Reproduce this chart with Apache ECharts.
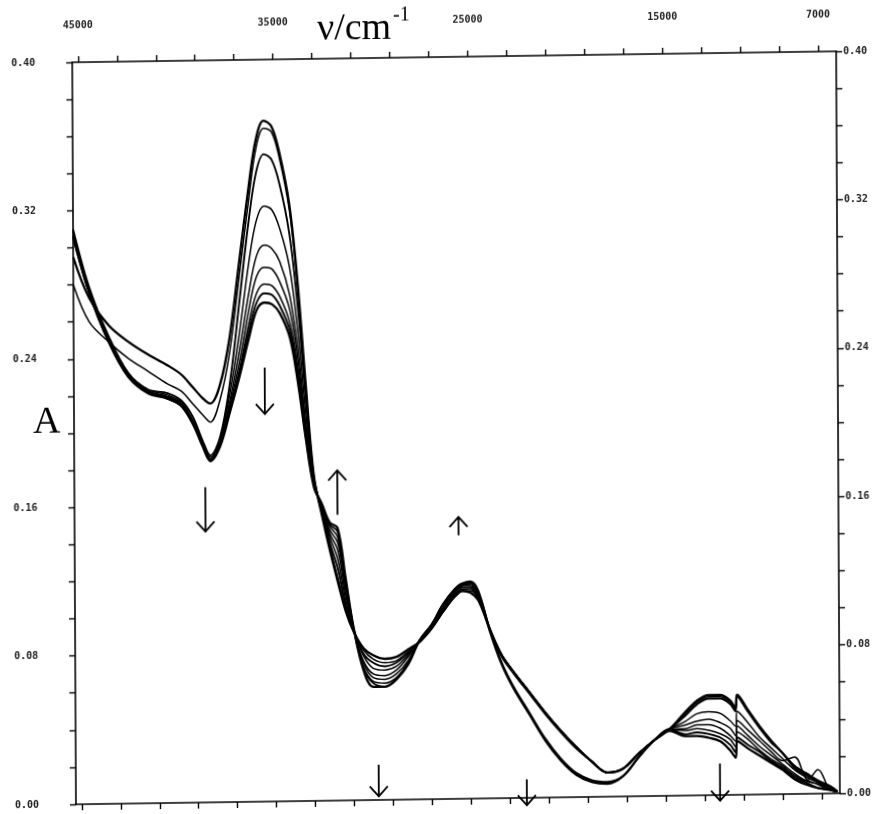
<!DOCTYPE html>
<html><head><meta charset="utf-8">
<script src="https://cdn.jsdelivr.net/npm/echarts@6/dist/echarts.min.js"></script>
<style>html,body{margin:0;padding:0;background:#fff;overflow:hidden}#c{width:888px;height:814px;transform-origin:444px 407px;transform:matrix(1,-0.0144,0.005,1,0,0)}</style>
</head><body><div id="c"></div>
<script>
// wavenumber grid (cm-1)
const wn = [45300,44500,43500,42500,41500,40500,39800,39200,38700,38300,37800,37300,36800,36300,35900,35500,35100,34700,34200,33800,33400,33000,32600,32200,31800,31400,31000,30500,30000,29400,28800,28200,27600,27000,26400,25800,25400,25000,24600,24000,23400,22800,22000,21200,20400,19600,18800,18000,17200,16400,15600,14800,14000,13400,12800,12200,11700,11420,11330,10800,10200,9600,9000,8400,7800,7200,6600,6200];

const s1 = [0.295,0.273,0.258,0.249,0.242,0.236,0.231,0.224,0.218,0.215,0.225,0.250,0.290,0.330,0.357,0.367,0.364,0.350,0.322,0.281,0.225,0.175,0.154,0.135,0.118,0.102,0.091,0.082,0.078,0.076,0.077,0.081,0.085,0.092,0.101,0.109,0.112,0.111,0.107,0.091,0.077,0.068,0.057,0.046,0.036,0.027,0.019,0.013,0.015,0.023,0.030,0.036,0.045,0.051,0.054,0.054,0.051,0.047,0.054,0.046,0.037,0.029,0.022,0.015,0.011,0.007,0.004,0.001];
const s2 = [0.280,0.260,0.249,0.240,0.233,0.226,0.222,0.215,0.209,0.205,0.217,0.242,0.282,0.323,0.352,0.363,0.361,0.347,0.319,0.279,0.223,0.175,0.155,0.137,0.120,0.103,0.091,0.081,0.076,0.074,0.075,0.080,0.085,0.092,0.101,0.109,0.112,0.112,0.108,0.091,0.077,0.068,0.057,0.046,0.036,0.027,0.019,0.013,0.015,0.023,0.030,0.036,0.044,0.050,0.053,0.053,0.050,0.046,0.054,0.046,0.037,0.029,0.022,0.015,0.011,0.007,0.004,0.001];
const s3 = [0.310,0.279,0.252,0.232,0.223,0.221,0.217,0.208,0.195,0.187,0.197,0.225,0.268,0.312,0.339,0.349,0.346,0.333,0.306,0.268,0.217,0.174,0.156,0.139,0.125,0.105,0.092,0.079,0.074,0.072,0.074,0.079,0.085,0.092,0.102,0.110,0.113,0.113,0.108,0.091,0.077,0.068,0.057,0.046,0.036,0.027,0.019,0.013,0.015,0.023,0.030,0.036,0.043,0.049,0.052,0.052,0.049,0.045,0.053,0.045,0.036,0.028,0.022,0.014,0.010,0.006,0.003,0.001];
const s4 = [0.309,0.278,0.251,0.232,0.223,0.220,0.216,0.206,0.194,0.186,0.196,0.220,0.252,0.290,0.313,0.321,0.319,0.309,0.288,0.254,0.209,0.173,0.157,0.142,0.130,0.108,0.092,0.078,0.071,0.070,0.072,0.078,0.086,0.093,0.102,0.111,0.114,0.114,0.109,0.091,0.077,0.068,0.057,0.046,0.036,0.027,0.019,0.013,0.015,0.023,0.030,0.036,0.040,0.044,0.045,0.044,0.040,0.037,0.045,0.039,0.031,0.025,0.019,0.013,0.009,0.006,0.003,0.001];
const s5 = [0.308,0.278,0.250,0.231,0.222,0.219,0.215,0.206,0.194,0.185,0.195,0.216,0.243,0.274,0.294,0.300,0.298,0.291,0.273,0.244,0.203,0.172,0.158,0.144,0.135,0.111,0.092,0.075,0.068,0.067,0.070,0.077,0.086,0.093,0.103,0.111,0.114,0.114,0.109,0.091,0.077,0.068,0.057,0.046,0.036,0.027,0.019,0.013,0.015,0.023,0.030,0.036,0.038,0.040,0.041,0.039,0.036,0.032,0.040,0.035,0.029,0.023,0.018,0.020,0.008,0.005,0.002,0.001];
const s6 = [0.307,0.277,0.250,0.231,0.222,0.219,0.215,0.205,0.193,0.185,0.194,0.214,0.237,0.265,0.283,0.288,0.287,0.280,0.265,0.238,0.201,0.171,0.158,0.146,0.139,0.114,0.092,0.074,0.066,0.065,0.068,0.075,0.086,0.093,0.104,0.112,0.115,0.115,0.110,0.091,0.077,0.068,0.057,0.046,0.036,0.027,0.019,0.013,0.015,0.023,0.030,0.036,0.036,0.038,0.038,0.036,0.032,0.029,0.037,0.032,0.026,0.021,0.016,0.011,0.007,0.005,0.002,0.001];
const s7 = [0.307,0.276,0.250,0.231,0.222,0.219,0.215,0.205,0.193,0.184,0.194,0.212,0.233,0.258,0.274,0.279,0.278,0.272,0.258,0.233,0.198,0.170,0.159,0.148,0.142,0.116,0.092,0.072,0.064,0.063,0.066,0.074,0.086,0.094,0.104,0.112,0.115,0.116,0.111,0.091,0.076,0.067,0.056,0.045,0.035,0.026,0.019,0.013,0.015,0.023,0.030,0.036,0.035,0.036,0.035,0.033,0.030,0.026,0.034,0.030,0.024,0.019,0.015,0.010,0.007,0.013,0.002,0.001];
const s8 = [0.306,0.276,0.249,0.230,0.222,0.218,0.214,0.205,0.192,0.184,0.193,0.211,0.231,0.254,0.269,0.274,0.273,0.267,0.254,0.230,0.196,0.170,0.160,0.149,0.145,0.118,0.093,0.071,0.063,0.061,0.065,0.074,0.086,0.094,0.105,0.113,0.116,0.116,0.111,0.091,0.073,0.060,0.046,0.032,0.021,0.013,0.009,0.008,0.011,0.021,0.030,0.036,0.033,0.034,0.033,0.031,0.027,0.023,0.031,0.027,0.023,0.018,0.014,0.009,0.006,0.003,0.002,0.001];
const s9 = [0.306,0.276,0.249,0.230,0.221,0.218,0.214,0.204,0.192,0.184,0.192,0.210,0.229,0.250,0.265,0.269,0.268,0.263,0.250,0.226,0.195,0.169,0.160,0.150,0.147,0.120,0.093,0.070,0.061,0.061,0.065,0.073,0.086,0.094,0.105,0.113,0.116,0.117,0.112,0.090,0.072,0.059,0.045,0.031,0.020,0.012,0.008,0.007,0.011,0.021,0.030,0.035,0.032,0.032,0.031,0.029,0.024,0.020,0.029,0.025,0.021,0.017,0.013,0.008,0.005,0.003,0.002,0.001];

const spectra = [s1,s2,s3,s4,s5,s6,s7,s8,s9];
const xTicks = [45000,43000,41000,39000,37000,35000,33000,31000,29000,27000,25000,23000,21000,19000,17000,15000,13000,11000,9000,7000];
const xTickLabels = [45000,35000,25000,15000,7000];
// annotation arrows: [wavenumber, A at tail, A at head]
const arrows = [[38580,0.170,0.146],[35500,0.234,0.209],[31800,0.154,0.178],[25590,0.142,0.152],[29750,0.019,0.002],[22150,0.010,-0.004],[12230,0.017,-0.003]];

const widths = [2.3,1.5,1.9,1.5,1.5,1.5,1.5,1.9,2.3];
const ink = '#000';
const labelFont = {fontFamily:'DejaVu Sans Mono', fontSize:10, color:'#222', fontWeight:'bold'};

function xAxisCfg(pos, showLabels){
  return {
    type:'value', position:pos, inverse:true, min:6080, max:45300,
    axisLine:{show:true, onZero:false, lineStyle:{color:ink, width:1.6}},
    axisTick:{show:true, inside:false, length:6, customValues:xTicks, lineStyle:{color:ink, width:1.4}},
    axisLabel:Object.assign({show:showLabels, margin:32, customValues:xTickLabels, formatter:v=>String(v)}, labelFont),
    splitLine:{show:false}
  };
}
function yAxisCfg(pos, margin){
  return {
    type:'value', position:pos, min:0, max:0.4, interval:0.08,
    axisLine:{show:true, onZero:false, lineStyle:{color:ink, width:1.6}},
    axisTick:{show:true, inside:false, length:6, lineStyle:{color:ink, width:1.4}},
    minorTick:{show:true, splitNumber:4, length:6, lineStyle:{color:ink, width:1.4}},
    axisLabel:Object.assign({margin:margin, formatter:v=>v.toFixed(2)}, labelFont),
    splitLine:{show:false}, minorSplitLine:{show:false}
  };
}

const chart = echarts.init(document.getElementById('c'), null, {renderer:'canvas'});
chart.setOption({
  animation:false,
  backgroundColor:'#fff',
  grid:{left:74, right:50, top:57, bottom:15},
  xAxis:[xAxisCfg('top', true), xAxisCfg('bottom', false)],
  yAxis:[yAxisCfg('left', 37), yAxisCfg('right', 7)],
  series: spectra.map((s,k)=>({
    type:'line', xAxisIndex:0, yAxisIndex:0,
    data: wn.map((v,i)=>[v, s[i]]),
    showSymbol:false, smooth:0.35,
    lineStyle:{color:ink, width:widths[k]}, silent:true
  }))
});

const g = [
  {type:'text', left:319, top:9, style:{text:'\u03bd/cm', font:'38px "Liberation Serif"', fill:ink}},
  {type:'text', left:395, top:5, style:{text:'-1', font:'20px "Liberation Serif"', fill:ink}},
  {type:'text', left:33, top:398, style:{text:'A', font:'38px "Liberation Serif"', fill:ink}}
];
arrows.forEach(a=>{
  const p0 = chart.convertToPixel({xAxisIndex:0, yAxisIndex:0}, [a[0], a[1]]);
  const p1 = chart.convertToPixel({xAxisIndex:0, yAxisIndex:0}, [a[0], a[2]]);
  const dir = p1[1] > p0[1] ? 1 : -1;
  g.push({type:'line', shape:{x1:p0[0], y1:p0[1], x2:p1[0], y2:p1[1]}, style:{stroke:ink, lineWidth:1.8}});
  g.push({type:'polyline', shape:{points:[[p1[0]-9, p1[1]-dir*10],[p1[0], p1[1]],[p1[0]+9, p1[1]-dir*10]]}, style:{stroke:ink, lineWidth:1.8, fill:null}});
});
chart.setOption({graphic:g});
</script></body></html>
